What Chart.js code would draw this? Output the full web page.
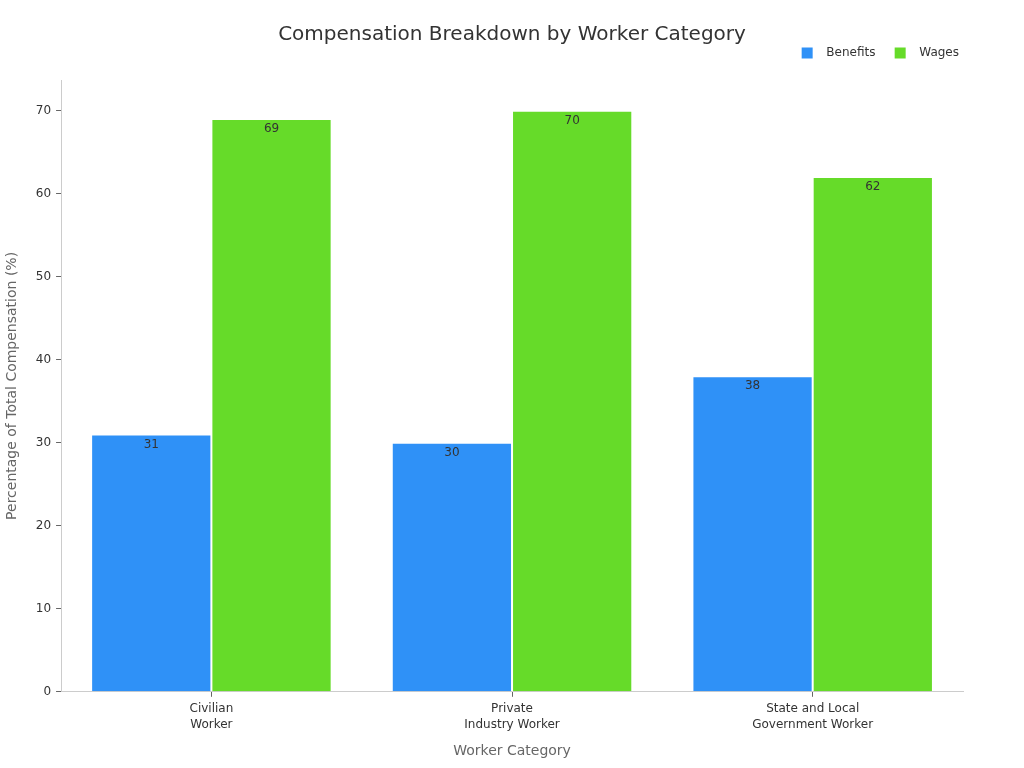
<!DOCTYPE html>
<html>
<head>
<meta charset="utf-8">
<script src="https://cdn.jsdelivr.net/npm/chart.js@4/dist/chart.umd.min.js"></script>
<style>
  html, body { margin: 0; padding: 0; background: #fff; }
  #wrap { width: 1024px; height: 768px; }
</style>
</head>
<body>
<div id="wrap"><canvas id="chart" width="1024" height="768"></canvas></div>
<script>
// data
const categories = [["Civilian", "Worker"], ["Private", "Industry Worker"], ["State and Local", "Government Worker"]];
const benefits = [31, 30, 38];
const wages = [69, 70, 62];

// draws each value just under the top of its bar
const barValueLabels = {
    id: "barValueLabels",
    afterDatasetsDraw(chart) {
        const ctx = chart.ctx;
        ctx.save();
        ctx.font = "12px 'DejaVu Sans'";
        ctx.fillStyle = "#333";
        ctx.textAlign = "center";
        ctx.textBaseline = "middle";
        chart.data.datasets.forEach((ds, i) => {
            chart.getDatasetMeta(i).data.forEach((bar, j) => {
                ctx.fillText(ds.data[j], bar.x, bar.y + 10);
            });
        });
        ctx.restore();
    }
};

// leaves some extra room between the legend and the plot
const legendGap = {
    id: "legendGap",
    beforeLayout(chart) {
        const lg = chart.legend;
        if (lg && !lg._gapPatched) {
            const fit = lg.fit;
            lg.fit = function () {
                fit.call(this);
                this.height += 11;
            };
            lg._gapPatched = true;
        }
    }
};

Chart.defaults.font.family = "'DejaVu Sans', sans-serif";
const defaultLabels = Chart.defaults.plugins.legend.labels.generateLabels;

new Chart(document.getElementById("chart").getContext("2d"), {
    type: "bar",
    data: {
        labels: categories,
        datasets: [
            {
                label: "Benefits",
                data: benefits,
                backgroundColor: "#2f91f7",
                borderColor: "#ffffff",
                borderWidth: 1
            },
            {
                label: "Wages",
                data: wages,
                backgroundColor: "#66db29",
                borderColor: "#ffffff",
                borderWidth: 1
            }
        ]
    },
    options: {
        responsive: false,
        animation: false,
        layout: { padding: { left: 0, right: 0, top: 0, bottom: 4 } },
        datasets: { bar: { barPercentage: 1.0, categoryPercentage: 0.8 } },
        plugins: {
            title: {
                display: true,
                text: "Compensation Breakdown by Worker Category",
                color: "#333",
                font: { size: 20, weight: "normal" },
                padding: { top: 23, bottom: -4 }
            },
            legend: {
                position: "top",
                align: "end",
                fullSize: false,
                labels: {
                    boxWidth: 11,
                    boxHeight: 11,
                    color: "#333",
                    font: { size: 12 },
                    padding: 4,
                    generateLabels: chart => defaultLabels(chart).map((item, i, all) => {
                        item.text = "  " + item.text + (i < all.length - 1 ? "    " : "");
                        item.lineWidth = 0;
                        return item;
                    })
                }
            },
            tooltip: { enabled: false }
        },
        scales: {
            x: {
                grid: { drawOnChartArea: false, drawTicks: true, tickLength: 5, color: "#666", offset: false },
                border: { color: "#ccc" },
                ticks: { color: "#333", font: { size: 12, lineHeight: 1.35 }, padding: 4 },
                title: {
                    display: true,
                    text: "Worker Category",
                    color: "#666",
                    font: { size: 14 },
                    padding: { top: 6 }
                }
            },
            y: {
                min: 0,
                max: 73.7,
                grid: { drawOnChartArea: false, drawTicks: true, tickLength: 5, color: "#666" },
                border: { color: "#ccc" },
                ticks: {
                    color: "#333",
                    font: { size: 12 },
                    stepSize: 10,
                    padding: 5,
                    callback: v => (v % 10 === 0 ? v : null)
                },
                title: {
                    display: true,
                    text: "Percentage of Total Compensation (%)",
                    color: "#666",
                    font: { size: 14 },
                    padding: { bottom: 10 }
                }
            },
            // empty axis that only keeps a margin on the right side
            yRight: {
                position: "right",
                display: true,
                grid: { display: false },
                border: { display: false },
                ticks: { display: false },
                afterFit: s => { s.width = 61; }
            }
        }
    },
    plugins: [barValueLabels, legendGap]
});
</script>
</body>
</html>
